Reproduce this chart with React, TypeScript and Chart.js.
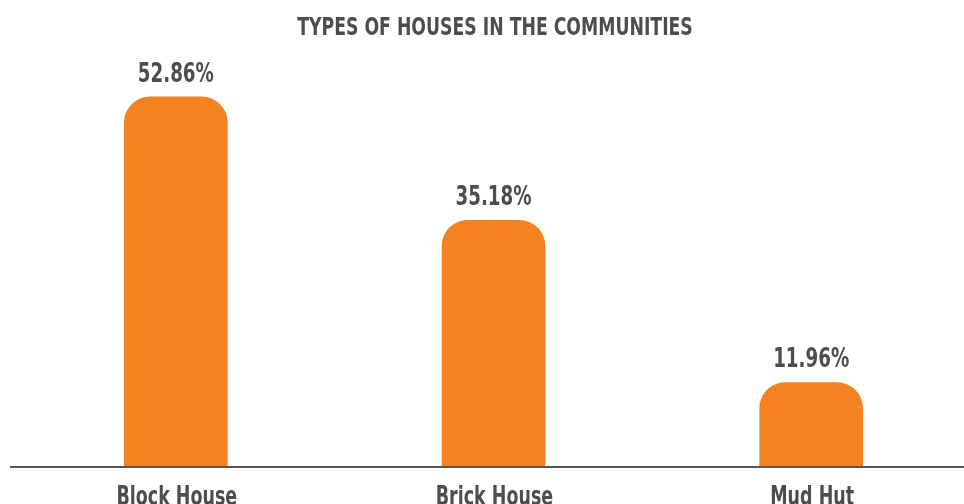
import React, { useEffect, useRef } from "react";
import { Chart, registerables } from "chart.js";

Chart.register(...registerables);

const title = "TYPES OF HOUSES IN THE COMMUNITIES";
const categories = ["Block House", "Brick House", "Mud Hut"];
const values = [52.86, 35.18, 11.96];
const yMax = 60;

const FONT = "'DejaVu Sans Condensed', 'DejaVu Sans', sans-serif";
const TEXT = "#4d4d4d";
const ORANGE = "#F58220";

function narrowText(ctx: any, text: string, x: number, y: number, size: number, sx: number) {
  ctx.save();
  ctx.font = `bold ${size}px ${FONT}`;
  ctx.fillStyle = TEXT;
  ctx.textAlign = "center";
  ctx.textBaseline = "alphabetic";
  ctx.translate(x, y);
  ctx.scale(sx, 1);
  ctx.fillText(text, 0, 0);
  ctx.restore();
}

const textPlugin = {
  id: "textPlugin",
  afterDatasetsDraw(chart: any) {
    const ctx = chart.ctx;
    const meta = chart.getDatasetMeta(0);
    narrowText(ctx, title, 495, 35, 24, 0.8);
    meta.data.forEach((bar: any, i: number) => {
      narrowText(ctx, values[i].toFixed(2) + "%", bar.x, bar.y - 15, 26, 0.78);
      narrowText(ctx, categories[i], bar.x + 1, 505, 27, 0.72);
    });
    const y = chart.chartArea.bottom;
    ctx.save();
    ctx.strokeStyle = "#555555";
    ctx.lineWidth = 2;
    ctx.beginPath();
    ctx.moveTo(10, y + 1);
    ctx.lineTo(chart.width, y + 1);
    ctx.stroke();
    ctx.restore();
  },
};

export default function App() {
  const ref = useRef<HTMLCanvasElement>(null);
  useEffect(() => {
    const chart = new Chart(ref.current!, {
      type: "bar",
      data: {
        labels: categories,
        datasets: [
          {
            data: values,
            backgroundColor: ORANGE,
            barThickness: 103,
            borderRadius: { topLeft: 26, topRight: 26, bottomLeft: 0, bottomRight: 0 },
            borderSkipped: "bottom",
          },
        ],
      },
      options: {
        animation: false,
        responsive: false,
        maintainAspectRatio: false,
        layout: { padding: { left: 17, right: 0, top: 47, bottom: 0 } },
        plugins: {
          legend: { display: false },
          tooltip: { enabled: false },
          title: { display: false },
        },
        scales: {
          x: {
            grid: { display: false, drawTicks: false },
            border: { display: false },
            ticks: { display: false },
            afterFit: (scale: any) => {
              scale.height = 38;
            },
          },
          y: {
            display: false,
            min: 0,
            max: yMax,
          },
        },
      },
      plugins: [textPlugin],
    });
    return () => chart.destroy();
  }, []);
  return (
    <div style={{ position: "fixed", left: 0, top: 0, width: 964, height: 504, overflow: "hidden", background: "#fff" }}>
      <canvas ref={ref} width={970} height={504} style={{ display: "block" }} />
    </div>
  );
}
